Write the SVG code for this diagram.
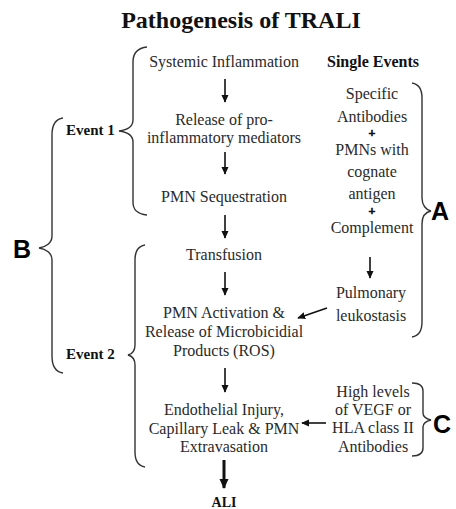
<svg xmlns="http://www.w3.org/2000/svg" width="456" height="509" viewBox="0 0 456 509">
<style>
.t{font-family:"Liberation Serif","Times New Roman",serif;font-size:16px;fill:#2a2a2a;text-anchor:middle}
.b{font-family:"Liberation Serif","Times New Roman",serif;font-weight:bold;fill:#111}
.p{font-family:"Liberation Serif","Times New Roman",serif;font-weight:bold;font-size:12px;fill:#111;stroke:#111;stroke-width:0.7;text-anchor:middle}
.L{font-family:"Liberation Sans",Arial,sans-serif;font-weight:bold;font-size:25px;fill:#000}
.br{fill:none;stroke:#333;stroke-width:1.4}
.ar{fill:none;stroke:#111;stroke-width:1.6;marker-end:url(#ah)}
.ab{fill:none;stroke:#111;stroke-width:3;marker-end:url(#ahb)}
</style>
<defs>
<marker id="ah" viewBox="0 0 10 10" refX="9" refY="5" markerWidth="8" markerHeight="8" markerUnits="userSpaceOnUse" orient="auto"><path d="M0,0.5 L10,5 L0,9.5 z" fill="#111"/></marker>
<marker id="ahb" viewBox="0 0 10 10" refX="9" refY="5" markerWidth="10" markerHeight="10" markerUnits="userSpaceOnUse" orient="auto"><path d="M0,0.5 L10,5 L0,9.5 z" fill="#111"/></marker>
</defs>
<rect width="456" height="509" fill="#fff"/>
<text class="b" x="241" y="28" font-size="24" text-anchor="middle">Pathogenesis of TRALI</text>

<g id="systemic"><text class="t" x="224" y="67">Systemic Inflammation</text></g>
<g id="release"><text class="t" x="224" y="125">Release of pro-</text><text class="t" x="224" y="143">inflammatory mediators</text></g>
<g id="sequestration"><text class="t" x="224" y="202">PMN Sequestration</text></g>
<g id="transfusion"><text class="t" x="224" y="260">Transfusion</text></g>
<g id="activation"><text class="t" x="224" y="318">PMN Activation &amp;</text><text class="t" x="224" y="337">Release of Microbicidial</text><text class="t" x="224" y="356">Products (ROS)</text></g>
<g id="injury"><text class="t" x="224" y="415">Endothelial Injury,</text><text class="t" x="224" y="434">Capillary Leak &amp; PMN</text><text class="t" x="224" y="452">Extravasation</text></g>
<g id="ali"><text class="b" x="224" y="507" font-size="14" text-anchor="middle">ALI</text></g>

<g id="single"><text class="b" x="373" y="67" font-size="16" text-anchor="middle">Single Events</text></g>
<g id="antibodies"><text class="t" x="372" y="99">Specific</text><text class="t" x="372" y="122">Antibodies</text>
<text class="p" x="372" y="137">+</text>
<text class="t" x="372" y="154.5">PMNs with</text><text class="t" x="372" y="177">cognate</text><text class="t" x="372" y="199">antigen</text>
<text class="p" x="372" y="214.5">+</text>
<text class="t" x="372" y="233">Complement</text></g>
<g id="leukostasis"><text class="t" x="371" y="298">Pulmonary</text><text class="t" x="371" y="321">leukostasis</text></g>
<g id="vegf"><text class="t" x="373" y="397">High levels</text><text class="t" x="373" y="415">of VEGF or</text><text class="t" x="373" y="433">HLA class II</text><text class="t" x="373" y="452">Antibodies</text></g>

<g id="event1"><text class="b" x="66" y="135" font-size="15">Event 1</text>
<path class="br" d="M147,47 C137,48 133,53 133,62 L133,120 C133,127 127,130 119,131 C127,132 133,135 133,142 L133,202 C133,210 137,214 147,215"/></g>
<g id="event2"><text class="b" x="66" y="359" font-size="15">Event 2</text>
<path class="br" d="M145,245 C139,246 135,251 135,260 L135,345 C135,351 132,354 128,355 C132,356 135,359 135,365 L135,452 C135,461 139,466 145,467"/></g>
<g id="B"><text class="L" x="13" y="258">B</text>
<path class="br" d="M63,118 C56,119 52,125 52,135 L52,236 C52,243 46,247 39,248 C46,249 52,253 52,260 L52,356 C52,366 56,372 63,373"/></g>
<g id="A"><text class="L" x="431" y="220">A</text>
<path class="br" d="M412,83 C418,84 422,89 422,98 L422,198 C422,205 426,210 431,211 C426,212 422,216 422,224 L422,322 C422,331 418,336 412,337"/></g>
<g id="C"><text class="L" x="433" y="433">C</text>
<path class="br" d="M412,383 C419,383 423,386 423,391 L423,413 C423,417 427,419 431,420 C427,421 423,423 423,427 L423,448 C423,453 419,456 412,456"/></g>

<g id="connectors">
<line class="ar" x1="225" y1="79" x2="225" y2="102"/>
<line class="ar" x1="225" y1="152" x2="225" y2="174"/>
<line class="ar" x1="225" y1="215" x2="225" y2="238"/>
<line class="ar" x1="225" y1="272" x2="225" y2="295"/>
<line class="ar" x1="225" y1="368" x2="225" y2="392"/>
<line class="ab" x1="224" y1="460" x2="224" y2="488"/>
<line class="ar" x1="370" y1="257" x2="370" y2="278"/>
<line class="ar" x1="327" y1="308" x2="298" y2="318"/>
<line class="ar" x1="326" y1="423" x2="302" y2="423"/>
</g>
</svg>
